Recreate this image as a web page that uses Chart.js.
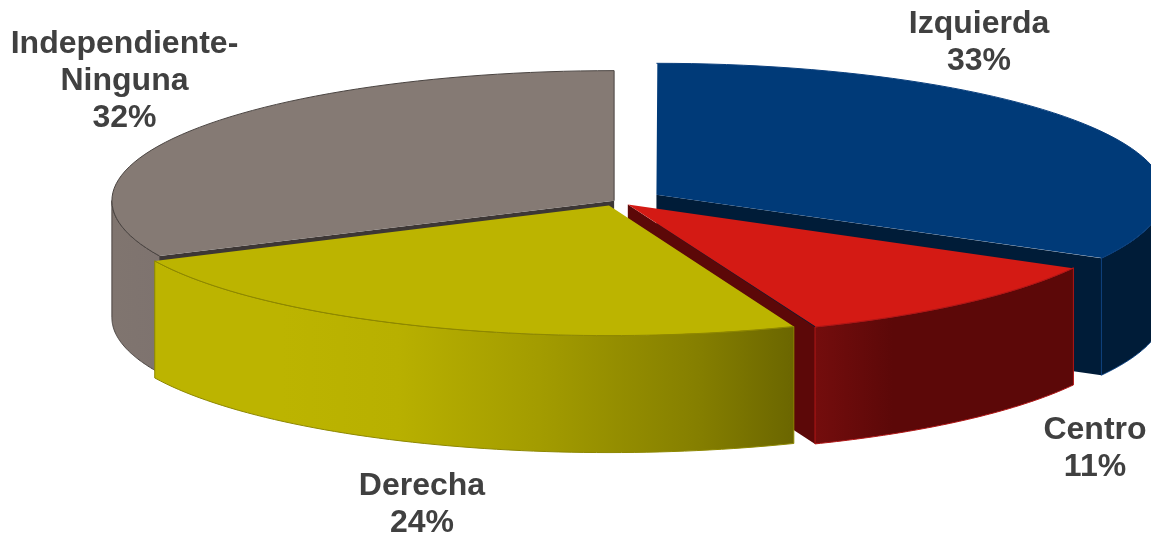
<!DOCTYPE html>
<html>
<head>
<meta charset="utf-8">
<title>Pie 3D</title>
<script src="https://cdn.jsdelivr.net/npm/chart.js"></script>
<style>
  html, body { margin: 0; padding: 0; background: #ffffff; }
  canvas { display: block; }
</style>
</head>
<body>
<canvas id="myChart" width="1151" height="533"></canvas>
<script>
// Chart data
const categories = ["Izquierda", "Centro", "Derecha", "Independiente-\nNinguna"];
const shares = [33, 11, 24, 32];

// Colors for each slice
const topColors = ["#003a78", "#d41a14", "#bcb400", "#857a74"];
const cutColors = ["#001c38", "#5c0808", "#6b6600", "#3d3735"];
const edgeColors = ["#0a3f7d", "#b01616", "#8d8700", "#4a4441"];
// Stops run from the right end of the wall to the left end
const rimStops = [
    [[0, "#001c38"], [1, "#001c38"]],
    [[0, "#5c0808"], [0.7, "#5c0808"], [1, "#740d0d"]],
    [[0, "#6b6600"], [0.15, "#857f00"], [0.4, "#a39c00"], [0.62, "#b8b000"], [0.8, "#bcb400"], [1, "#bcb400"]],
    [[0, "#7e736f"], [1, "#80756f"]]
];

// How far each slice is pulled out of the pie
const explode = [84, 32, 34, 4];

// Where the text goes (center x and baseline of the first line)
const labelSpots = [[979, 33], [1095, 439], [422, 495], [124.5, 53]];
const lineGap = 37;

// Squashed pie on the page
const CENTER_X = 616;
const CENTER_Y = 201;
const RADIUS_X = 502;
const RADIUS_Y = 130;
const DEPTH = 117;

function scaleOf(arc) {
    return { sx: RADIUS_X / arc.outerRadius, sy: RADIUS_Y / arc.outerRadius };
}

// Same shift and radius the arc element uses when it draws itself
function pointOn(arc, angle, onRim) {
    const s = scaleOf(arc);
    const off = arc.options.offset / 4;
    const mid = (arc.startAngle + arc.endAngle) / 2;
    const fix = 1 - Math.sin(Math.min(Math.PI, arc.circumference));
    const r = onRim ? arc.outerRadius + off * fix : 0;
    return {
        x: CENTER_X + s.sx * (Math.cos(mid) * off + Math.cos(angle) * r),
        y: CENTER_Y + s.sy * (Math.sin(mid) * off + Math.sin(angle) * r)
    };
}

function rimPoints(arc, from, to) {
    const pts = [];
    const steps = 60;
    for (let i = 0; i <= steps; i++) {
        pts.push(pointOn(arc, from + (to - from) * i / steps, true));
    }
    return pts;
}

function tracePath(ctx, pts) {
    ctx.beginPath();
    pts.forEach((p, i) => {
        if (i == 0) ctx.moveTo(p.x, p.y);
        else ctx.lineTo(p.x, p.y);
    });
    ctx.closePath();
}

function dropped(pts) {
    return pts.map(p => ({ x: p.x, y: p.y + DEPTH })).reverse();
}

function drawCutFace(ctx, arc, angle, color) {
    const top = [pointOn(arc, angle, false), pointOn(arc, angle, true)];
    tracePath(ctx, top.concat(dropped(top)));
    ctx.fillStyle = color;
    ctx.fill();
}

function drawRim(ctx, arc, index) {
    const from = Math.max(arc.startAngle, 0);
    const to = Math.min(arc.endAngle, Math.PI);
    if (to <= from) return;
    const pts = rimPoints(arc, from, to);
    const xs = pts.map(p => p.x);
    const grad = ctx.createLinearGradient(Math.max(...xs), 0, Math.min(...xs), 0);
    rimStops[index].forEach(st => grad.addColorStop(st[0], st[1]));
    tracePath(ctx, pts.concat(dropped(pts)));
    ctx.fillStyle = grad;
    ctx.fill();
    ctx.lineWidth = 1;
    ctx.strokeStyle = edgeColors[index];
    ctx.stroke();
}

// Walls go first, back slices before front slices. The tops all lie on one plane so they come last.
const threeD = {
    id: "threeD",
    beforeDatasetsDraw(chart) {
        const ctx = chart.ctx;
        const arcs = chart.getDatasetMeta(0).data;
        [3, 0, 1, 2].forEach(i => {
            const arc = arcs[i];
            // a cut side only shows when it faces down the page
            if (Math.sin(arc.startAngle - Math.PI / 2) > 0.001) drawCutFace(ctx, arc, arc.startAngle, cutColors[i]);
            if (Math.sin(arc.endAngle + Math.PI / 2) > 0.001) drawCutFace(ctx, arc, arc.endAngle, cutColors[i]);
            drawRim(ctx, arc, i);
        });
        const s = scaleOf(arcs[0]);
        ctx.save();
        ctx.translate(CENTER_X, CENTER_Y);
        ctx.scale(s.sx, s.sy);
        ctx.translate(-arcs[0].x, -arcs[0].y);
    },
    afterDatasetsDraw(chart) {
        const ctx = chart.ctx;
        ctx.restore();
        const arcs = chart.getDatasetMeta(0).data;

        // thin line around the front of each top
        arcs.forEach((arc, i) => {
            const pts = rimPoints(arc, arc.startAngle, arc.endAngle);
            if (i == 3) pts.push(pointOn(arc, 0, false));
            ctx.beginPath();
            pts.forEach((p, k) => {
                if (k == 0) ctx.moveTo(p.x, p.y);
                else ctx.lineTo(p.x, p.y);
            });
            ctx.lineWidth = 1;
            ctx.strokeStyle = edgeColors[i];
            ctx.stroke();
        });

        // labels
        ctx.fillStyle = "#404040";
        ctx.font = "bold 32px 'Liberation Sans', Arial, sans-serif";
        ctx.textAlign = "center";
        ctx.textBaseline = "alphabetic";
        categories.forEach((name, i) => {
            const lines = name.split("\n").concat(shares[i] + "%");
            lines.forEach((line, k) => {
                ctx.fillText(line, labelSpots[i][0], labelSpots[i][1] + k * lineGap);
            });
        });
    }
};

new Chart("myChart", {
    type: "pie",
    data: {
        labels: categories,
        datasets: [{
            data: shares,
            backgroundColor: topColors,
            borderWidth: 0,
            offset: explode,
            clip: false
        }]
    },
    options: {
        responsive: false,
        animation: false,
        events: [],
        plugins: {
            legend: { display: false },
            tooltip: { enabled: false }
        }
    },
    plugins: [threeD]
});
</script>
</body>
</html>
